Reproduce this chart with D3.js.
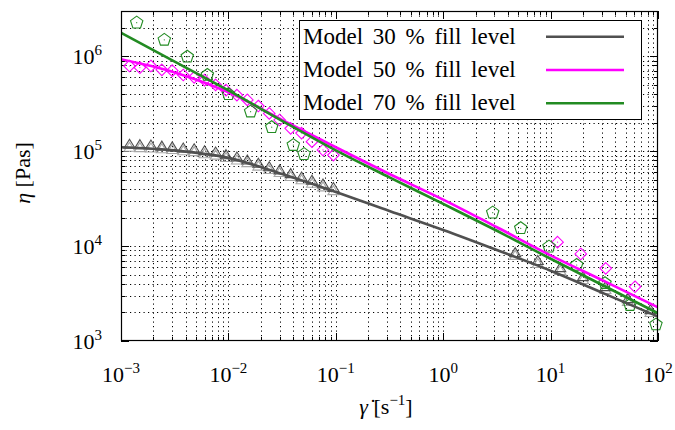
<!DOCTYPE html>
<html>
<head>
<meta charset="utf-8">
<script src="https://cdn.jsdelivr.net/npm/d3@7/dist/d3.min.js"></script>
<style>
  html, body { margin: 0; padding: 0; background: #fff; }
  svg { display: block; }
</style>
</head>
<body>
<svg id="chart" width="675" height="430"></svg>
<script>
// Shear-rate grid for the model curves [1/s] and model viscosities [Pa s]
const modelRates = [1e-3, 3.16e-3, 1e-2, 3.16e-2, 0.1, 0.316, 1, 3.16, 10, 31.6, 100];
const model30 = [1.10e5, 1.02e5, 8.5e4, 5.75e4, 3.72e4, 2.34e4, 1.48e4, 9.1e3, 5.5e3, 3.16e3, 1.81e3];
const model50 = [9.3e5, 6.76e5, 4.17e5, 2.14e5, 1.10e5, 5.75e4, 3.09e4, 1.58e4, 8.0e3, 4.27e3, 2.26e3];
const model70 = [1.77e6, 8.8e5, 4.37e5, 2.09e5, 1.02e5, 5.3e4, 2.78e4, 1.45e4, 7.36e3, 3.8e3, 1.96e3];

// Measured points, low shear range
const lowRates = [0.0012, 0.0015, 0.0019, 0.0024, 0.003, 0.0038, 0.0048, 0.006, 0.0076, 0.0095,
                  0.012, 0.015, 0.019, 0.024, 0.03, 0.038, 0.048, 0.06, 0.076, 0.095];
const meas30 = [1.17e5, 1.16e5, 1.15e5, 1.12e5, 1.10e5, 1.07e5, 1.05e5, 1.0e5, 9.7e4, 9.1e4,
                8.6e4, 8.0e4, 7.4e4, 6.8e4, 6.3e4, 5.75e4, 5.3e4, 4.9e4, 4.47e4, 4.1e4];
const meas30b = [1.09e5, 1.08e5, 1.07e5, 1.05e5, 1.03e5, 1.0e5, 9.8e4, 9.3e4, 9.0e4, 8.5e4,
                 8.0e4, 7.5e4, 6.9e4, 6.35e4, 5.9e4, 5.35e4, 4.95e4, 4.55e4, 4.17e4, 3.8e4];
const meas50 = [7.9e5, 7.6e5, 7.9e5, 7.2e5, 7.05e5, 6.35e5, 6.0e5, 5.6e5, 5.0e5, 4.4e5,
                3.9e5, 3.47e5, 2.99e5, 2.5e5, 2.13e5, 1.74e5, 1.55e5, 1.26e5, 1.03e5, 9.1e4];
const rates70Low = [0.0014, 0.00253, 0.00414, 0.00637, 0.01, 0.0161, 0.0253, 0.0402, 0.0506];
const meas70Low = [2.26e6, 1.49e6, 9.9e5, 6.35e5, 3.98e5, 2.61e5, 1.79e5, 1.16e5, 9.3e4];

// Measured points, high shear range
const rates30High = [4.68, 7.6, 12.3, 20, 32.4, 52.5, 85.1];
const meas30High = [8.45e3, 6.97e3, 5.87e3, 4.72e3, 3.7e3, 2.77e3, 2.12e3];
const meas30bHigh = [7.9e3, 6.5e3, 5.48e3, 4.4e3, 3.45e3, 2.58e3, 1.98e3];
const rates50High = [11.6, 19.1, 32.6, 61.1];
const meas50High = [1.1e4, 8.26e3, 5.83e3, 3.73e3];
const rates70High = [2.89, 5.27, 9.66, 17.5, 32.1, 54.8, 95.7];
const meas70High = [2.25e4, 1.54e4, 9.86e3, 6.32e3, 4.06e3, 2.39e3, 1.49e3];

// Axis decades and legend entries
const xTickExps = [-3, -2, -1, 0, 1, 2];
const yTickExps = [3, 4, 5, 6];
const legendLabels = ["Model 30 % fill level", "Model 50 % fill level", "Model 70 % fill level"];
const seriesColors = ["#505050", "#ff00ff", "#228b22"];

const svg = d3.select("#chart")
  .attr("font-family", "'Liberation Serif', 'DejaVu Serif', 'Times New Roman', serif");
const plotL = 121, plotR = 658, plotT = 11, plotB = 341;

const x = d3.scaleLog().domain([1e-3, 1e2]).range([plotL, plotR]);
const y = d3.scaleLog().domain([1e3, 3e6]).range([plotB, plotT]);

// Tick positions at every decade and every intermediate integer multiple
function logTicks(lo, hi) {
  const out = [];
  for (let e = Math.floor(Math.log10(lo)); e <= Math.ceil(Math.log10(hi)); e++) {
    for (let m = 1; m <= 9; m++) {
      const v = m * Math.pow(10, e);
      if (v >= lo * 0.9999 && v <= hi * 1.0001) out.push({ v, major: m === 1 });
    }
  }
  return out;
}
const xTicks = logTicks(1e-3, 1e2);
const yTicks = logTicks(1e3, 3e6);

// Dotted grid
const grid = svg.append("g")
  .attr("stroke", "#000").attr("stroke-width", 1).attr("stroke-dasharray", "1.2,3.3");
xTicks.filter(t => x(t.v) > plotL + 1 && x(t.v) < plotR - 1).forEach(t => {
  const px = Math.round(x(t.v)) + 0.5;
  grid.append("line").attr("x1", px).attr("x2", px).attr("y1", plotT).attr("y2", plotB);
});
yTicks.filter(t => y(t.v) > plotT + 1 && y(t.v) < plotB - 1).forEach(t => {
  const py = Math.round(y(t.v)) + 0.5;
  grid.append("line").attr("x1", plotL).attr("x2", plotR).attr("y1", py).attr("y2", py);
});

// Inward tick marks on all four sides
const tk = svg.append("g").attr("stroke", "#000").attr("stroke-width", 1);
xTicks.forEach(t => {
  const px = Math.round(x(t.v)) + 0.5, len = t.major ? 8 : 4;
  tk.append("line").attr("x1", px).attr("x2", px).attr("y1", plotB).attr("y2", plotB - len);
  tk.append("line").attr("x1", px).attr("x2", px).attr("y1", plotT).attr("y2", plotT + len);
});
yTicks.forEach(t => {
  const py = Math.round(y(t.v)) + 0.5, len = t.major ? 8 : 4;
  tk.append("line").attr("x1", plotL).attr("x2", plotL + len).attr("y1", py).attr("y2", py);
  tk.append("line").attr("x1", plotR).attr("x2", plotR - len).attr("y1", py).attr("y2", py);
});

// Marker shapes
function pentagonPath(r) {
  const pts = d3.range(5).map(i => {
    const a = -Math.PI / 2 + i * 2 * Math.PI / 5;
    return [r * Math.cos(a), r * Math.sin(a)];
  });
  return "M" + pts.map(p => p.join(",")).join("L") + "Z";
}
function diamondPath(r) {
  return `M0,${-r}L${r},0L0,${r}L${-r},0Z`;
}
function trianglePath(w, h) {
  return `M0,${-h * 0.6}L${w / 2},${h * 0.4}L${-w / 2},${h * 0.4}Z`;
}

function drawMarkers(rates, vals, path, color, dot) {
  const g = svg.append("g");
  rates.forEach((r, i) => {
    const m = g.append("g").attr("transform", `translate(${x(r)},${y(vals[i])})`);
    m.append("path").attr("d", path).attr("fill", "none")
      .attr("stroke", color).attr("stroke-width", 1.1);
    if (dot) m.append("circle").attr("r", 0.6).attr("fill", color);
  });
}

const tri = trianglePath(11, 9);
drawMarkers(lowRates, meas30b, tri, "#a8a8a8", false);
drawMarkers(rates30High, meas30bHigh, tri, "#a8a8a8", false);
drawMarkers(lowRates, meas30, tri, "#505050", false);
drawMarkers(rates30High, meas30High, tri, "#505050", false);
drawMarkers(lowRates, meas50, diamondPath(5.8), "#ff00ff", true);
drawMarkers(rates50High, meas50High, diamondPath(5.8), "#ff00ff", true);
drawMarkers(rates70Low, meas70Low, pentagonPath(6.5), "#228b22", true);
drawMarkers(rates70High, meas70High, pentagonPath(6.5), "#228b22", true);

// Model curves, clipped to the plotting area
svg.append("clipPath").attr("id", "plotArea")
  .append("rect").attr("x", plotL).attr("y", plotT).attr("width", plotR - plotL).attr("height", plotB - plotT);
const line = d3.line().x(d => x(d[0])).y(d => y(d[1])).curve(d3.curveMonotoneX);
const curves = svg.append("g").attr("clip-path", "url(#plotArea)");
[model30, model50, model70].forEach((vals, k) => {
  curves.append("path")
    .attr("d", line(modelRates.map((r, i) => [r, vals[i]])))
    .attr("fill", "none").attr("stroke", seriesColors[k]).attr("stroke-width", 2.6);
});

// Frame
svg.append("rect").attr("x", plotL + 0.5).attr("y", plotT + 0.5)
  .attr("width", plotR - plotL - 1).attr("height", plotB - plotT - 1)
  .attr("fill", "none").attr("stroke", "#000").attr("stroke-width", 1.2);

// Tick labels
function powerLabel(sel, exp) {
  sel.append("tspan").text("10");
  sel.append("tspan").attr("dy", -9).attr("font-size", 15)
    .text(exp < 0 ? "\u2212" + Math.abs(exp) : String(exp));
}
xTickExps.forEach(e => {
  const t = svg.append("text").attr("x", x(Math.pow(10, e))).attr("y", 382)
    .attr("text-anchor", "middle").attr("font-size", 22);
  powerLabel(t, e);
});
yTickExps.forEach(e => {
  const t = svg.append("text").attr("x", 102).attr("y", y(Math.pow(10, e)) + 7.5)
    .attr("text-anchor", "end").attr("font-size", 22);
  powerLabel(t, e);
});

// Axis titles
const yt = svg.append("text").attr("transform", "translate(30,173) rotate(-90)")
  .attr("text-anchor", "middle").attr("font-size", 22);
yt.append("tspan").attr("font-style", "italic").text("\u03b7");
yt.append("tspan").text(" [Pas]");

const xt = svg.append("text").attr("x", 386).attr("y", 414)
  .attr("text-anchor", "middle").attr("font-size", 22);
xt.append("tspan").attr("font-style", "italic").text("\u03b3\u0307");
xt.append("tspan").text(" [s");
xt.append("tspan").attr("dy", -9).attr("font-size", 15).text("\u22121");
xt.append("tspan").attr("dy", 9).text("]");

// Legend
const lg = svg.append("g");
lg.append("rect").attr("x", 299.5).attr("y", 20.5).attr("width", 342).attr("height", 99)
  .attr("fill", "#fff").attr("stroke", "#000").attr("stroke-width", 1);
const labelWidth = 224;
legendLabels.forEach((lab, i) => {
  const by = 43.5 + i * 33.3;
  const t = lg.append("text").attr("x", 303).attr("y", by).attr("font-size", 23).text(lab);
  const w = t.node().getComputedTextLength();
  const gaps = lab.split(" ").length - 1;
  if (w < labelWidth) t.attr("word-spacing", Math.min(4, (labelWidth - w) / gaps));
  lg.append("line").attr("x1", 546).attr("x2", 624).attr("y1", by - 6.8).attr("y2", by - 6.8)
    .attr("stroke", seriesColors[i]).attr("stroke-width", 2.6);
});
</script>
</body>
</html>
